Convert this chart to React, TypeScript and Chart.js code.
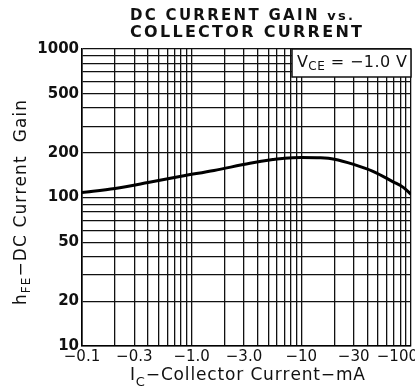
import React, { useEffect, useRef } from 'react';
import { Chart, registerables } from 'chart.js';

Chart.register(...registerables);

// ---- data (magnitude of collector current, mA) ----
const currentMA = [0.1, 0.2, 0.4, 0.8, 1.6, 3.4, 5.5, 7, 10, 15, 20, 30, 45, 68, 85, 100];
const gainHFE = [108, 115, 126, 139, 152, 170, 180, 184, 186, 185, 181, 167, 150, 128, 117, 105];

const xTickValues = [0.1, 0.3, 1, 3, 10, 30, 100];
const xTickText = ['\u22120.1', '\u22120.3', '\u22121.0', '\u22123.0', '\u221210', '\u221230', '\u2212100'];
const yTickValues = [10, 20, 50, 100, 200, 500, 1000];
const yTickText = ['10', '20', '50', '100', '200', '500', '1000'];

const titleLine1 = 'DC CURRENT GAIN ';
const titleLine1b = 'vs.';
const titleLine2 = 'COLLECTOR CURRENT';
const legendText = ['V', 'CE', ' = \u22121.0 V'];
const yTitle = ['h', 'FE', '\u2212DC Current  Gain'];
const xTitle = ['I', 'C', '\u2212Collector Current\u2212mA'];

const FONT = '"DejaVu Sans", "Liberation Sans", Arial, sans-serif';

// log grid values (1..9 x decade)
function logGrid(min: number, max: number): number[] {
  const out: number[] = [];
  for (let e = Math.floor(Math.log10(min)); e <= Math.ceil(Math.log10(max)); e++) {
    for (let s = 1; s <= 9; s++) {
      const v = parseFloat((s * Math.pow(10, e)).toPrecision(6));
      if (v >= min - 1e-9 && v <= max + 1e-9) out.push(v);
    }
  }
  return out;
}

const near = (a: number, b: number) => Math.abs(a - b) / b < 1e-6;

type Run = { text: string; font: string; dy: number };

function drawRuns(ctx: CanvasRenderingContext2D, runs: Run[], x0: number, y0: number, targetW?: number) {
  let w = 0;
  let n = 0;
  for (const r of runs) {
    ctx.font = r.font;
    for (const ch of r.text) {
      w += ctx.measureText(ch).width;
      n++;
    }
  }
  const ls = targetW ? (targetW - w) / Math.max(1, n - 1) : 0;
  let x = x0;
  for (const r of runs) {
    ctx.font = r.font;
    for (const ch of r.text) {
      ctx.fillText(ch, x, y0 + r.dy);
      x += ctx.measureText(ch).width + ls;
    }
  }
}

const annotPlugin = {
  id: 'annot',
  afterDraw(chart: any) {
    const ctx: CanvasRenderingContext2D = chart.ctx;
    const ca = chart.chartArea;
    const xs = chart.scales.x;
    ctx.save();
    ctx.fillStyle = '#111';
    ctx.textAlign = 'left';
    ctx.textBaseline = 'alphabetic';

    // title
    drawRuns(
      ctx,
      [
        { text: titleLine1, font: `bold 15px ${FONT}`, dy: 0 },
        { text: titleLine1b, font: `bold 13px ${FONT}`, dy: 0 },
      ],
      130,
      20,
      223
    );
    drawRuns(ctx, [{ text: titleLine2, font: `bold 16px ${FONT}`, dy: 0 }], 130, 37, 232);

    // x tick labels
    ctx.font = `15px ${FONT}`;
    xTickValues.forEach((v, i) => {
      const px = xs.getPixelForValue(v);
      const w = ctx.measureText(xTickText[i]).width;
      const left = Math.min(px - w / 2, chart.width - w + 3);
      ctx.fillText(xTickText[i], left, ca.bottom + 15);
    });

    // x title
    drawRuns(
      ctx,
      [
        { text: xTitle[0], font: `17px ${FONT}`, dy: 0 },
        { text: xTitle[1], font: `13px ${FONT}`, dy: 6 },
        { text: xTitle[2], font: `17px ${FONT}`, dy: 0 },
      ],
      130,
      380,
      235
    );

    // y title (rotated)
    ctx.save();
    ctx.translate(26, 305);
    ctx.rotate(-Math.PI / 2);
    drawRuns(
      ctx,
      [
        { text: yTitle[0], font: `17px ${FONT}`, dy: 0 },
        { text: yTitle[1], font: `12px ${FONT}`, dy: 4 },
        { text: yTitle[2], font: `17px ${FONT}`, dy: 0 },
      ],
      0,
      0,
      205
    );
    ctx.restore();

    // legend box
    const bx = ca.right - 119;
    const by = ca.top;
    ctx.fillStyle = '#fff';
    ctx.fillRect(bx, by, 119, 28);
    ctx.strokeStyle = '#111';
    ctx.lineWidth = 1.5;
    ctx.strokeRect(bx, by, 119, 28);
    ctx.fillStyle = '#111';
    drawRuns(
      ctx,
      [
        { text: legendText[0], font: `16px ${FONT}`, dy: 0 },
        { text: legendText[1], font: `12px ${FONT}`, dy: 3 },
        { text: legendText[2], font: `16px ${FONT}`, dy: 0 },
      ],
      bx + 5,
      by + 18,
      110
    );
    ctx.restore();
  },
};

export default function App() {
  const ref = useRef<HTMLCanvasElement | null>(null);

  useEffect(() => {
    if (!ref.current) return;
    const xGrid = logGrid(0.1, 100);
    const yGrid = logGrid(10, 1000);
    const chart = new Chart(ref.current, {
      type: 'line',
      data: {
        datasets: [
          {
            data: currentMA.map((x, i) => ({ x, y: gainHFE[i] })),
            borderColor: '#000',
            borderWidth: 3,
            pointRadius: 0,
            cubicInterpolationMode: 'monotone',
            fill: false,
          },
        ],
      },
      options: {
        responsive: false,
        animation: false,
        layout: { padding: { top: 49, right: 4, left: 0, bottom: 0 } },
        plugins: {
          legend: { display: false },
          title: { display: false },
          tooltip: { enabled: false },
        },
        scales: {
          x: {
            type: 'logarithmic',
            min: 0.1,
            max: 100,
            afterBuildTicks: (s: any) => {
              s.ticks = xGrid.map((v) => ({ value: v }));
            },
            afterFit: (s: any) => {
              s.height = 43;
            },
            ticks: { display: false, autoSkip: false },
            grid: { color: '#111', lineWidth: 1.3, drawTicks: false },
            border: { display: true, color: '#000', width: 1.6 },
          },
          y: {
            type: 'logarithmic',
            min: 10,
            max: 1000,
            afterBuildTicks: (s: any) => {
              s.ticks = yGrid.map((v) => ({ value: v }));
            },
            afterFit: (s: any) => {
              s.width = 82;
            },
            ticks: {
              autoSkip: false,
              padding: 3,
              color: '#111',
              font: { family: FONT, size: 15, weight: 'bold' },
              callback: (v: any) => {
                const idx = yTickValues.findIndex((t) => near(Number(v), t));
                return idx >= 0 ? yTickText[idx] : '';
              },
            },
            grid: { color: '#111', lineWidth: 1.3, drawTicks: false },
            border: { display: true, color: '#000', width: 1.6 },
          },
        },
      },
      plugins: [annotPlugin],
    } as any);
    return () => chart.destroy();
  }, []);

  return (
    <div style={{ position: 'fixed', left: 0, top: 0, width: 415, height: 389, background: '#fff' }}>
      <canvas ref={ref} width={415} height={389} style={{ display: 'block' }} />
    </div>
  );
}
